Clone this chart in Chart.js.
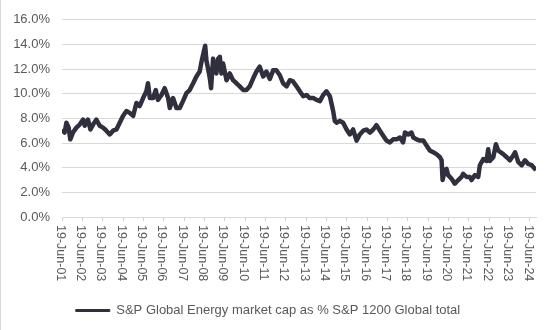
<!DOCTYPE html>
<html>
<head>
<meta charset="utf-8">
<script src="https://cdn.jsdelivr.net/npm/chart.js@4.4.1/dist/chart.umd.min.js"></script>
<style>
  html, body { margin: 0; padding: 0; background: #fff; }
  #wrap { position: relative; width: 550px; height: 330px; }
  #edge { position: absolute; left: 0; top: 0; width: 1px; height: 330px; background: #d9d9d9; }
</style>
</head>
<body>
<div id="wrap">
  <canvas id="myChart" width="550" height="330"></canvas>
  <div id="edge"></div>
</div>
<script>
// decimal years and energy share of S&P 1200, %
var years = [
  2001.46, 2001.59, 2001.68, 2001.79, 2001.87, 2002.00, 2002.17, 2002.33, 2002.50, 2002.58,
  2002.74, 2002.86, 2002.99, 2003.15, 2003.32, 2003.48, 2003.64, 2003.81, 2003.97, 2004.14,
  2004.30, 2004.46, 2004.63, 2004.79, 2004.96, 2005.12, 2005.28, 2005.45, 2005.61, 2005.69,
  2005.78, 2005.94, 2006.07, 2006.18, 2006.35, 2006.51, 2006.68, 2006.76, 2006.92, 2007.09,
  2007.25, 2007.41, 2007.58, 2007.74, 2007.91, 2008.07, 2008.23, 2008.32, 2008.43, 2008.50,
  2008.56, 2008.64, 2008.73, 2008.79, 2008.89, 2008.97, 2009.05, 2009.14, 2009.22, 2009.30,
  2009.38, 2009.55, 2009.71, 2009.87, 2010.04, 2010.20, 2010.37, 2010.53, 2010.69, 2010.86,
  2011.02, 2011.18, 2011.35, 2011.51, 2011.68, 2011.84, 2012.00, 2012.17, 2012.33, 2012.50,
  2012.66, 2012.82, 2012.99, 2013.15, 2013.32, 2013.48, 2013.64, 2013.81, 2013.97, 2014.14,
  2014.30, 2014.46, 2014.63, 2014.79, 2014.87, 2014.96, 2015.12, 2015.28, 2015.45, 2015.61,
  2015.77, 2015.94, 2016.10, 2016.27, 2016.43, 2016.60, 2016.76, 2016.92, 2017.09, 2017.25,
  2017.41, 2017.58, 2017.74, 2017.91, 2018.07, 2018.23, 2018.32, 2018.48, 2018.64, 2018.73,
  2018.89, 2019.05, 2019.22, 2019.38, 2019.54, 2019.71, 2019.87, 2020.04, 2020.12, 2020.17,
  2020.28, 2020.36, 2020.44, 2020.61, 2020.77, 2020.94, 2021.10, 2021.18, 2021.35, 2021.51,
  2021.59, 2021.76, 2021.92, 2022.00, 2022.17, 2022.33, 2022.41, 2022.49, 2022.66, 2022.79,
  2022.90, 2023.15, 2023.32, 2023.48, 2023.64, 2023.73, 2023.89, 2024.06, 2024.22, 2024.38,
  2024.55, 2024.71, 2024.76
];
var energyShare = [
  7.1, 6.85, 7.65, 7.25, 6.3, 6.85, 7.25, 7.5, 7.9, 7.4,
  7.9, 7.1, 7.5, 7.9, 7.4, 7.25, 7.0, 6.7, 7.0, 7.1,
  7.65, 8.2, 8.6, 8.45, 8.2, 9.25, 9.0, 9.65, 10.2, 10.85,
  9.65, 9.65, 10.3, 9.5, 9.9, 10.45, 9.65, 8.85, 9.65, 8.85,
  8.85, 9.4, 10.05, 10.3, 10.85, 11.4, 11.8, 12.6, 13.4, 13.9,
  12.7, 12.05, 11.25, 10.45, 12.85, 12.05, 11.65, 12.85, 13.0, 11.65,
  12.45, 11.1, 11.65, 11.1, 10.85, 10.6, 10.3, 10.3, 10.6, 11.25,
  11.8, 12.2, 11.4, 11.8, 11.2, 11.9, 11.9, 11.5, 10.85, 10.6,
  11.1, 11.0, 10.6, 10.2, 9.8, 9.9, 9.65, 9.65, 9.5, 9.4,
  9.9, 10.2, 9.8, 8.6, 7.8, 7.65, 7.8, 7.65, 7.1, 6.7,
  7.1, 6.2, 6.7, 7.0, 7.1, 6.85, 7.1, 7.45, 7.0, 6.6,
  6.2, 6.05, 6.3, 6.3, 6.45, 6.05, 6.85, 6.7, 6.85, 6.45,
  6.3, 6.2, 6.2, 5.8, 5.4, 5.25, 5.1, 4.85, 4.6, 3.0,
  3.8, 3.9, 3.4, 3.1, 2.7, 3.0, 3.25, 3.5, 3.25, 3.25,
  3.0, 3.4, 3.25, 4.2, 4.7, 4.55, 5.5, 4.55, 4.85, 5.9,
  5.4, 5.1, 4.85, 4.6, 5.0, 5.25, 4.45, 4.2, 4.6, 4.3,
  4.2, 3.9, 3.8
];
// 19 June of each year
var tickYears = [];
var tickLabels = [];
for (var y = 2001; y <= 2024; y++) {
  tickYears.push(y + 169 / 365);
  tickLabels.push('19-Jun-' + String(y).slice(2));
}

var lineColor = '#2f2f3d';
var textColor = '#595959';
var font = '"Liberation Sans", Arial, sans-serif';

var xLabelPlugin = {
  id: 'xLabels',
  afterDraw: function (chart) {
    var s = chart.scales.x, ctx = chart.ctx;
    ctx.save();
    ctx.font = '12.5px ' + font;
    ctx.fillStyle = textColor;
    ctx.textAlign = 'left';
    ctx.textBaseline = 'middle';
    s.ticks.forEach(function (t, i) {
      ctx.save();
      ctx.translate(s.getPixelForValue(t.value) - 2, s.top + 8);
      ctx.rotate(Math.PI / 2);
      ctx.fillText(tickLabels[i], 0, 0);
      ctx.restore();
    });
    ctx.restore();
  }
};

var ctx = document.getElementById('myChart').getContext('2d');
var myChart = new Chart(ctx, {
  type: 'line',
  data: {
    datasets: [{
      label: 'S&P Global Energy market cap as % S&P 1200 Global total',
      data: years.map(function (x, i) { return { x: x, y: energyShare[i] }; }),
      borderColor: lineColor,
      backgroundColor: lineColor,
      borderWidth: 4.5,
      borderJoinStyle: 'round',
      pointRadius: 0,
      tension: 0
    }]
  },
  options: {
    responsive: false,
    animation: false,
    layout: { padding: { left: 0, right: 14, top: 17, bottom: 3 } },
    plugins: {
      legend: {
        position: 'bottom',
        labels: {
          color: textColor,
          font: { family: font, size: 13 },
          boxWidth: 34,
          boxHeight: 2,
          padding: 10,
          generateLabels: function (chart) {
            var items = Chart.defaults.plugins.legend.labels.generateLabels(chart);
            items.forEach(function (it) { it.lineWidth = 1; });
            return items;
          }
        }
      },
      tooltip: { enabled: false }
    },
    scales: {
      x: {
        type: 'linear',
        min: tickYears[0],
        max: 2024.76,
        afterBuildTicks: function (s) {
          s.ticks = tickYears.map(function (v) { return { value: v }; });
        },
        afterFit: function (s) { s.height = 77; },
        ticks: { display: false },
        grid: { drawOnChartArea: false, drawTicks: true, tickLength: 4, color: '#d0d0d0' },
        border: { display: true, color: '#d9d9d9' }
      },
      y: {
        min: 0,
        max: 16,
        afterFit: function (s) { s.width = 62; },
        ticks: {
          stepSize: 2,
          padding: 12,
          color: textColor,
          font: { family: font, size: 13 },
          callback: function (v) { return v.toFixed(1) + '%'; }
        },
        grid: { color: '#d9d9d9', drawTicks: false },
        border: { display: false }
      }
    }
  },
  plugins: [xLabelPlugin]
});
</script>
</body>
</html>
